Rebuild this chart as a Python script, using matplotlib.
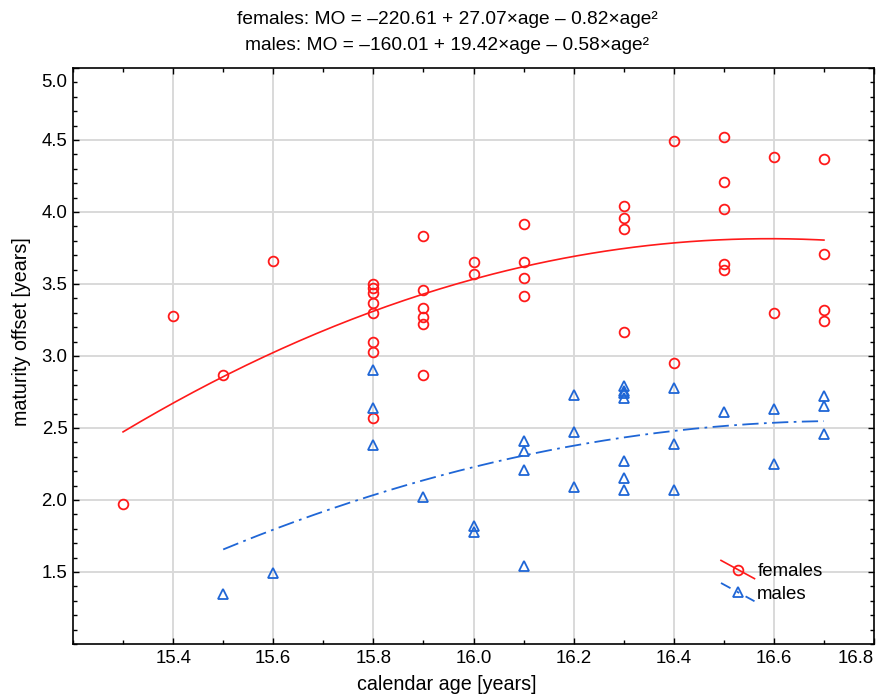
import numpy as np
import matplotlib
matplotlib.use("Agg")
import matplotlib.pyplot as plt
from matplotlib.lines import Line2D
from matplotlib.legend_handler import HandlerLine2D
from matplotlib.ticker import MultipleLocator, FixedLocator
from matplotlib.transforms import ScaledTranslation

plt.rcParams['font.family'] = ['Liberation Sans', 'DejaVu Sans']

# ---- data ----
female_age = [15.3, 15.4, 15.5, 15.6,
              15.8, 15.8, 15.8, 15.8, 15.8, 15.8, 15.8, 15.8,
              15.9, 15.9, 15.9, 15.9, 15.9, 15.9,
              16.0, 16.0,
              16.1, 16.1, 16.1, 16.1,
              16.3, 16.3, 16.3, 16.3,
              16.4, 16.4,
              16.5, 16.5, 16.5, 16.5, 16.5,
              16.6, 16.6,
              16.7, 16.7, 16.7, 16.7]
female_mo = [1.97, 3.28, 2.87, 3.66,
             3.50, 3.47, 3.44, 3.37, 3.30, 3.10, 3.03, 2.57,
             3.83, 3.46, 3.33, 3.27, 3.22, 2.87,
             3.65, 3.57,
             3.92, 3.65, 3.54, 3.42,
             4.04, 3.96, 3.88, 3.17,
             4.49, 2.95,
             4.52, 4.21, 4.02, 3.64, 3.60,
             4.38, 3.30,
             4.37, 3.71, 3.32, 3.24]

male_age = [15.5, 15.6,
            15.8, 15.8, 15.8,
            15.9,
            16.0, 16.0,
            16.1, 16.1, 16.1, 16.1,
            16.2, 16.2, 16.2,
            16.3, 16.3, 16.3, 16.3, 16.3, 16.3, 16.3,
            16.4, 16.4, 16.4,
            16.5,
            16.6, 16.6,
            16.7, 16.7, 16.7]
male_mo = [1.35, 1.49,
           2.90, 2.64, 2.38,
           2.02,
           1.82, 1.78,
           2.41, 2.34, 2.21, 1.54,
           2.73, 2.47, 2.09,
           2.79, 2.76, 2.74, 2.71, 2.27, 2.15, 2.07,
           2.78, 2.39, 2.07,
           2.61,
           2.63, 2.25,
           2.72, 2.65, 2.46]

title_lines = ["females: MO = \u2013220.61 + 27.07\u00d7age \u2013 0.82\u00d7age\u00b2",
               "males: MO = \u2013160.01 + 19.42\u00d7age \u2013 0.58\u00d7age\u00b2"]
x_ticks = [15.4, 15.6, 15.8, 16.0, 16.2, 16.4, 16.6, 16.8]
y_ticks = [1.5, 2.0, 2.5, 3.0, 3.5, 4.0, 4.5, 5.0]

RED = '#ff1a1a'
BLUE = '#1f66d6'
FS = 13.4
FS_LAB = 14.2
FS_TITLE = 13.8

fig = plt.figure(figsize=(8.78, 6.95), dpi=100)
W, H = 878, 695
ax = fig.add_axes([73 / W, 1 - 644 / H, (874 - 73) / W, (644 - 68) / H])

# quadratic fits (computed from the data)
fa, fm = np.array(female_age), np.array(female_mo)
ma, mm = np.array(male_age), np.array(male_mo)
pf = np.polyfit(fa, fm, 2)
pm = np.polyfit(ma, mm, 2)
xf = np.linspace(fa.min(), fa.max(), 200)
xm = np.linspace(ma.min(), ma.max(), 200)
ax.plot(xf, np.polyval(pf, xf), color=RED, lw=1.2, zorder=3)
ax.plot(xm, np.polyval(pm, xm), color=BLUE, lw=1.3, zorder=3,
        linestyle=(0, (9, 3, 1.5, 3)))

ax.plot(fa, fm, linestyle='None', marker='o', ms=7, mfc='none', mec=RED, mew=1.3, zorder=4)
ax.plot(ma, mm, linestyle='None', marker='^', ms=7, mfc='none', mec=BLUE, mew=1.3, zorder=4)

ax.set_xlim(15.2, 16.8)
ax.set_ylim(1.0, 5.0)
ax.xaxis.set_major_locator(FixedLocator(x_ticks))
ax.yaxis.set_major_locator(FixedLocator(y_ticks))
ax.xaxis.set_minor_locator(MultipleLocator(0.1))
ax.yaxis.set_minor_locator(MultipleLocator(0.1))
ax.set_xticklabels([f"{v:.1f}" for v in x_ticks])
ax.set_yticklabels([f"{v:.1f}" for v in y_ticks])
ax.tick_params(which='both', direction='in', top=True, right=True,
               labeltop=False, labelright=False, color='black')
ax.tick_params(which='major', length=4, width=1.0, labelsize=FS, pad=4)
ax.tick_params(which='minor', length=3, width=1.0)
top_lab = ax.get_yticklabels()[-1]
top_lab.set_va('top')
top_lab.set_transform(top_lab.get_transform() + ScaledTranslation(0, -4 / 72, fig.dpi_scale_trans))
ax.get_xticklabels()[-1].set_ha('right')

for v in x_ticks[:-1]:
    ax.axvline(v, color='#d9d9d9', lw=1.4, zorder=1)
for v in y_ticks[:-1]:
    ax.axhline(v, color='#d9d9d9', lw=1.4, zorder=1)

for s in ax.spines.values():
    s.set_linewidth(1.2)
    s.set_color('black')

ax.set_xlabel("calendar age [years]", fontsize=FS_LAB)
ax.xaxis.set_label_coords((447 - 73) / 801, (644 - 684) / 576)
ax.xaxis.label.set_va('center')
ax.set_ylabel("maturity offset [years]", fontsize=FS_LAB)
ax.yaxis.set_label_coords((22 - 73) / 801, (644 - 332) / 576)
ax.yaxis.label.set_va('center')

fig.text(447 / W, 1 - 19 / H, title_lines[0], ha='center', va='center', fontsize=FS_TITLE)
fig.text(447 / W, 1 - 46 / H, title_lines[1], ha='center', va='center', fontsize=FS_TITLE)


class SlantHandler(HandlerLine2D):
    def create_artists(self, legend, orig_handle, xdescent, ydescent,
                       width, height, fontsize, trans):
        x0, x1 = -xdescent, width - xdescent
        y0, y1 = height * 1.2 - ydescent, -height * 0.2 - ydescent
        line = Line2D([x0, x1], [y0, y1])
        self.update_prop(line, orig_handle, legend)
        line.set_marker('None')
        line.set_transform(trans)
        mk = Line2D([(x0 + x1) / 2], [(y0 + y1) / 2])
        self.update_prop(mk, orig_handle, legend)
        mk.set_linestyle('None')
        mk.set_transform(trans)
        return [line, mk]


h_f = Line2D([], [], color=RED, lw=1.2, marker='o', ms=7, mfc='none', mec=RED, mew=1.3)
h_m = Line2D([], [], color=BLUE, lw=1.3, linestyle=(0, (6, 4, 1.5, 4)),
             marker='^', ms=7, mfc='none', mec=BLUE, mew=1.3)
leg = ax.legend([h_f, h_m], ["females", "males"], loc='upper left',
                bbox_to_anchor=((721 - 73) / 801, (644 - 563) / 576),
                frameon=False, fontsize=FS, borderpad=0, borderaxespad=0,
                handlelength=1.8, handletextpad=0.15, labelspacing=0.3,
                handler_map={Line2D: SlantHandler()})

fig.savefig("out.png", dpi=100)
